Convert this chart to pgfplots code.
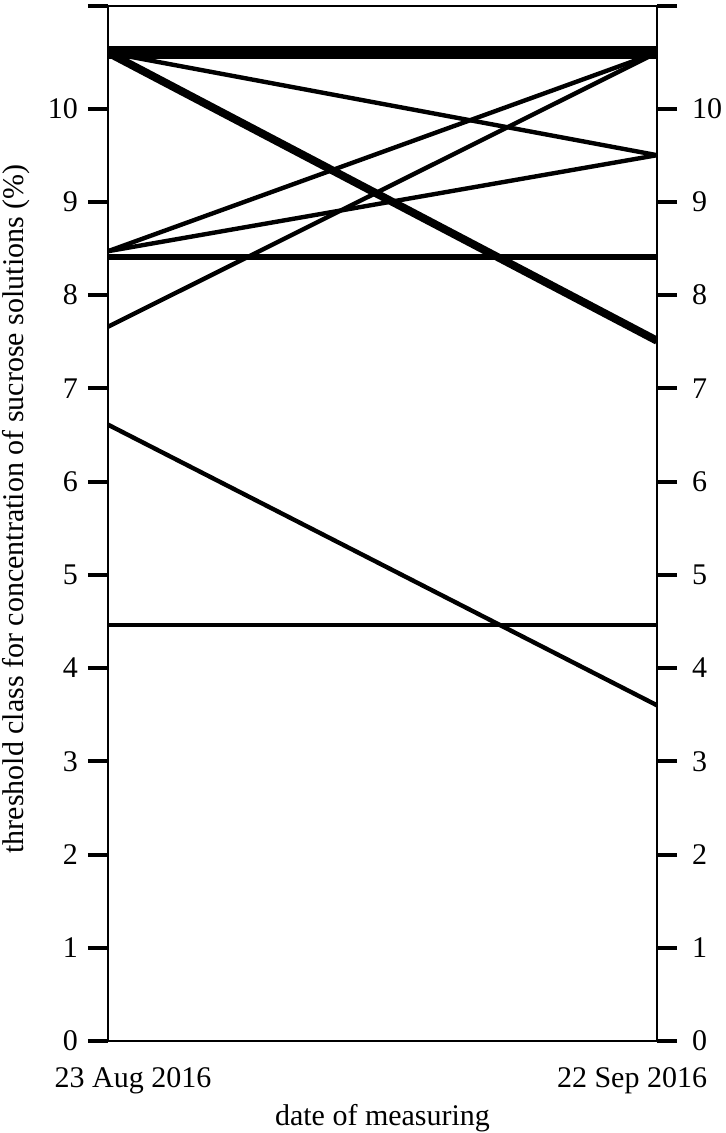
\documentclass[border=0pt]{standalone}
\usepackage{fontspec}
\setmainfont{Liberation Serif}
\usepackage{pgfplots}
\pgfplotsset{compat=1.18}

\pgfplotsset{
  base/.style={
    scale only axis,
    width=274.5pt, height=517.5pt,
    at={(0,0)}, anchor=south west,
    xmin=0, xmax=1, ymin=0, ymax=11.1,
    ytick={0,1,2,3,4,5,6,7,8,9,10,11.1},
    yticklabels={0,1,2,3,4,5,6,7,8,9,10,{}},
    ytick align=outside,
    major tick length=10pt,
    ytick style={line width=2pt, black},
    /pgf/number format/assume math mode=true,
    tick label style={font=\fontsize{15}{18}\selectfont},
    label style={font=\fontsize{15}{18}\selectfont},
  },
}

\begin{document}
\begin{tikzpicture}
\begin{axis}[
    base,
    ytick pos=left,
    axis line style={line width=1.3pt},
    xtick={0.0455,0.9545},
    xticklabels={23 Aug 2016, 22 Sep 2016},
    xtick style={draw=none},
    xticklabel style={anchor=north, yshift=-9.5pt},
    yticklabel style={anchor=east, xshift=-1.5pt},
    xlabel={date of measuring},
    xlabel style={at={(axis description cs:0.5,-0.0744)}, anchor=center},
    ylabel={threshold class for concentration of sucrose solutions (\%)},
    ylabel style={at={(axis description cs:-0.1676,0.514)}, anchor=center},
]
% thin lines
\addplot[black, line width=2.2pt] coordinates {(0,10.6) (1,9.5)};
\addplot[black, line width=2.2pt] coordinates {(0,8.47) (1,10.6)};
\addplot[black, line width=2.2pt] coordinates {(0,8.47) (1,9.5)};
\addplot[black, line width=2.2pt] coordinates {(0,7.66) (1,10.6)};
\addplot[black, line width=2.2pt] coordinates {(0,6.61) (1,3.6)};
\addplot[black, line width=2.3pt] coordinates {(0,4.46) (1,4.46)};
% thicker lines
\addplot[black, line width=3.3pt] coordinates {(0,8.41) (1,8.41)};
\addplot[black, line width=4pt] coordinates {(0,10.6) (1,7.51)};
\addplot[black, line width=6.5pt] coordinates {(0,10.6) (1,10.6)};
\end{axis}

\begin{axis}[
    base,
    hide x axis,
    axis y line*=right,
    y axis line style={line width=1.3pt, -},
    ytick pos=right,
    yticklabel style={anchor=west, xshift=4pt},
]
\end{axis}

\pgfresetboundingbox
\path ([xshift=-54pt,yshift=-46pt]current axis.south west)
  rectangle ([xshift=34pt,yshift=3pt]current axis.north east);
\end{tikzpicture}
\end{document}
